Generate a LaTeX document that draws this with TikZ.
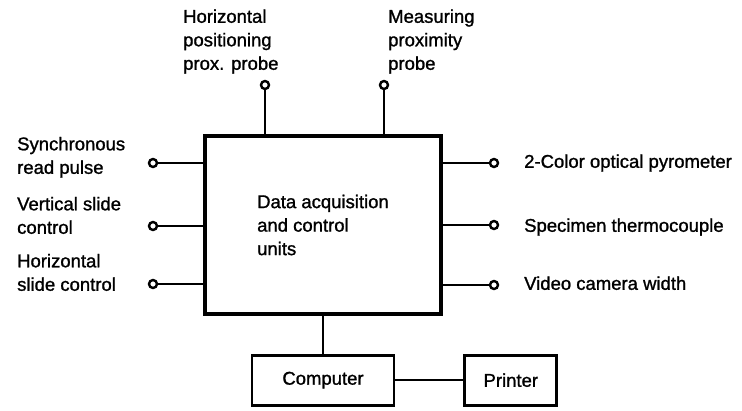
\documentclass[tikz,border=0pt]{standalone}
\usepackage{fontspec}
\setmainfont{Liberation Sans}[FakeBold=1.2]
\usetikzlibrary{positioning}

\begin{document}
\begin{tikzpicture}[
  x=1pt, y=-1pt,
  lbl/.style={inner sep=0pt, align=left, text depth=0pt,
              font=\fontsize{18.5}{23.5}\selectfont},
  unit/.style={draw, line width=3.5pt, minimum width=236pt, minimum height=178pt,
               align=left, font=\fontsize{18.5}{23.5}\selectfont},
  box/.style={draw, line width=2.8pt, minimum height=50pt, inner sep=0pt,
              font=\fontsize{18.5}{23.5}\selectfont},
  pin/.style={draw, circle, line width=2.4pt, minimum size=8pt, inner sep=0pt},
  lead/.style={line width=2.3pt}
]
\useasboundingbox (0,0) rectangle (742,410);

\node[unit] (daq) at (323,225) {Data acquisition\\and control\\units};
\node[box, minimum width=142pt, below=38pt of daq] (comp) {Computer};
\node[box, minimum width=92pt, right=68pt of comp] (prn) {Printer};

% probes on top
\node[pin] (hpp) at (265,85) {};
\node[pin] (mpp) at (384,85) {};
\node[lbl, anchor=south west] (hpp-l) at (183,70) {Horizontal\\positioning\\prox. probe};
\node[lbl, anchor=south west] (mpp-l) at (388,70) {Measuring\\proximity\\probe};

% inputs on the left
\node[pin] (srp) at (153,163) {};
\node[pin] (vsc) at (153,226) {};
\node[pin] (hsc) at (153,284) {};
\node[lbl, anchor=south west] (srp-l) at (17,174) {Synchronous\\read pulse};
\node[lbl, anchor=south west] (vsc-l) at (17,234) {Vertical slide\\control};
\node[lbl, anchor=south west] (hsc-l) at (17,291) {Horizontal\\slide control};

% sensors on the right
\node[pin] (pyr) at (494,163) {};
\node[pin] (tc)  at (494,225) {};
\node[pin] (cam) at (494,285) {};
\node[lbl, anchor=south west] (pyr-l) at (524,168) {2-Color optical pyrometer};
\node[lbl, anchor=south west] (tc-l)  at (524,232) {Specimen thermocouple};
\node[lbl, anchor=south west] (cam-l) at (524,290) {Video camera width};

\draw[lead] (hpp) -- (hpp |- daq.north); \draw[lead] (mpp) -- (mpp |- daq.north);
\draw[lead] (srp) -- (srp -| daq.west); \draw[lead] (vsc) -- (vsc -| daq.west);
\draw[lead] (hsc) -- (hsc -| daq.west);
\draw[lead] (pyr) -- (pyr -| daq.east); \draw[lead] (tc) -- (tc -| daq.east);
\draw[lead] (cam) -- (cam -| daq.east);
\draw[lead] (comp.north) -- (comp.north |- daq.south);
\draw[lead] (comp) -- (prn);
\end{tikzpicture}
\end{document}
